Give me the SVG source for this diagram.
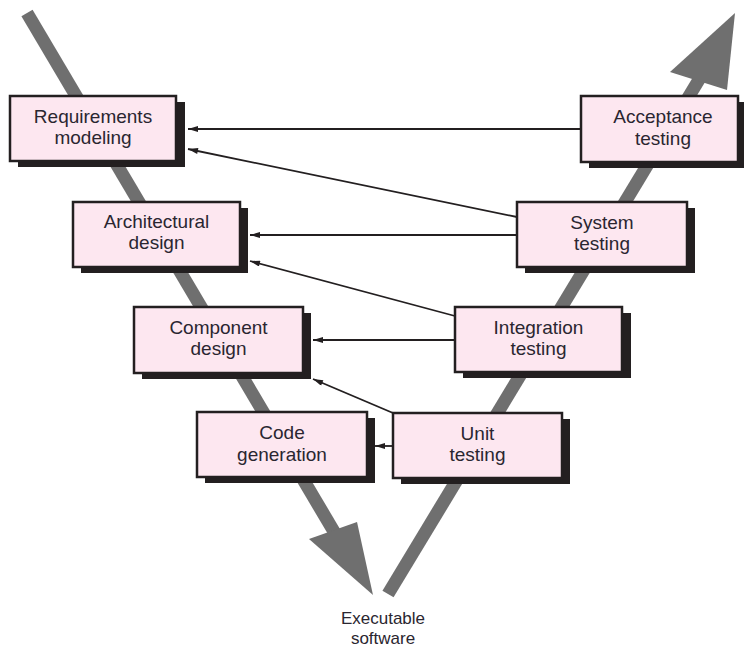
<svg xmlns="http://www.w3.org/2000/svg" width="744" height="650" viewBox="0 0 744 650">
<defs>
<style>
.bar{stroke:#6f6f6f;stroke-width:13;fill:none}
.head{fill:#6f6f6f}
.shadow{fill:#231f20}
.box{fill:#fde7f0;stroke:#231f20;stroke-width:2.5}
.lbl{font-family:"Liberation Sans",Arial,sans-serif;font-size:19px;fill:#2a2630;text-anchor:middle}
.conn{stroke:#231f20;stroke-width:1.8;fill:none}
</style>
<marker id="ah" viewBox="0 0 10 6" refX="10" refY="3" markerWidth="11" markerHeight="6" markerUnits="userSpaceOnUse" orient="auto">
<path d="M0,0 L10,3 L0,6 Z" fill="#231f20"/>
</marker>
</defs>
<rect width="744" height="650" fill="#ffffff"/>
<g id="v-shape">
<line class="bar" x1="27" y1="13" x2="336" y2="535"/>
<polygon class="head" points="309,539 357,522 373,595"/>
<line class="bar" x1="388" y1="594" x2="700" y2="78"/>
<polygon class="head" points="670,72 727,90 735,13"/>
</g>
<g id="connectors">
<line class="conn" x1="581" y1="129" x2="188" y2="129" marker-end="url(#ah)"/>
<line class="conn" x1="517" y1="217" x2="188" y2="149" marker-end="url(#ah)"/>
<line class="conn" x1="517" y1="235" x2="250" y2="235" marker-end="url(#ah)"/>
<line class="conn" x1="455" y1="316" x2="250" y2="261" marker-end="url(#ah)"/>
<line class="conn" x1="455" y1="340" x2="313" y2="340" marker-end="url(#ah)"/>
<line class="conn" x1="393" y1="413" x2="313" y2="379" marker-end="url(#ah)"/>
<line class="conn" x1="393" y1="446" x2="375" y2="446" marker-end="url(#ah)"/>
</g>
<g id="requirements-modeling">
<rect class="shadow" x="18" y="102" width="167" height="65"/>
<rect class="box" x="10" y="96" width="166" height="65"/>
<text class="lbl" x="93" y="123">Requirements</text>
<text class="lbl" x="93" y="144">modeling</text>
</g>
<g id="architectural-design">
<rect class="shadow" x="81" y="208" width="167" height="65"/>
<rect class="box" x="73" y="202" width="167" height="65"/>
<text class="lbl" x="156.5" y="228">Architectural</text>
<text class="lbl" x="156.5" y="249">design</text>
</g>
<g id="component-design">
<rect class="shadow" x="142" y="313" width="169" height="66"/>
<rect class="box" x="134" y="307" width="169" height="66"/>
<text class="lbl" x="218.5" y="334">Component</text>
<text class="lbl" x="218.5" y="355">design</text>
</g>
<g id="code-generation">
<rect class="shadow" x="205" y="418" width="170" height="65"/>
<rect class="box" x="197" y="412" width="170" height="65"/>
<text class="lbl" x="282" y="439">Code</text>
<text class="lbl" x="282" y="461">generation</text>
</g>
<g id="acceptance-testing">
<rect class="shadow" x="589" y="102" width="157" height="66"/>
<rect class="box" x="581" y="96" width="157" height="66"/>
<text class="lbl" x="663" y="123">Acceptance</text>
<text class="lbl" x="663" y="145">testing</text>
</g>
<g id="system-testing">
<rect class="shadow" x="525" y="208" width="170" height="65"/>
<rect class="box" x="517" y="202" width="170" height="65"/>
<text class="lbl" x="602" y="229">System</text>
<text class="lbl" x="602" y="250">testing</text>
</g>
<g id="integration-testing">
<rect class="shadow" x="463" y="313" width="168" height="65"/>
<rect class="box" x="455" y="307" width="167" height="65"/>
<text class="lbl" x="538.5" y="334">Integration</text>
<text class="lbl" x="538.5" y="355">testing</text>
</g>
<g id="unit-testing">
<rect class="shadow" x="401" y="419" width="169" height="65"/>
<rect class="box" x="393" y="413" width="169" height="65"/>
<text class="lbl" x="477.5" y="440">Unit</text>
<text class="lbl" x="477.5" y="461">testing</text>
</g>
<g id="executable-software">
<text class="lbl" x="383" y="624" style="font-size:17px">Executable</text>
<text class="lbl" x="383" y="644" style="font-size:17px">software</text>
</g>
</svg>
